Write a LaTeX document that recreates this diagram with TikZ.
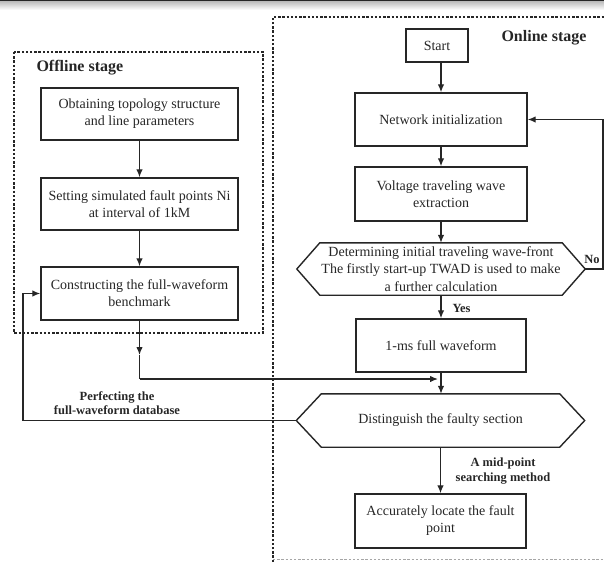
\documentclass[tikz,border=0pt]{standalone}
\usepackage{fontspec}
\setmainfont{Liberation Serif}
\usetikzlibrary{arrows.meta,calc}
\begin{document}
\begin{tikzpicture}[x=1pt,y=-1pt,
  box/.style={draw=black!85, line width=1.4pt, align=center, inner sep=0pt,
    font=\fontsize{14}{17}\selectfont, text=black!85},
  hexnode/.style={align=center, inner sep=0pt, minimum width=288pt, minimum height=52pt,
    font=\fontsize{14}{17.5}\selectfont, text=black!85},
  hexline/.style={draw=black!85, line width=1.4pt, line join=miter},
  arr/.style={draw=black!85, line width=1.3pt, -{Latex[length=8pt,width=6.5pt]}},
  conn/.style={draw=black!85, line width=1.3pt},
  lbl/.style={font=\bfseries\fontsize{12.5}{14.5}\selectfont, align=center, text=black!85},
  stagelbl/.style={font=\bfseries\fontsize{16}{19}\selectfont, text=black!85},
  dashbox/.style={draw=black!85, line width=1.5pt, dash pattern=on 2.4pt off 1.8pt}
]
\useasboundingbox (0,0) rectangle (604,562);
% screenshot top bar
\fill[black!85] (0,0) rectangle (604,1.8);
\shade[top color=black!25, bottom color=white] (0,1.8) rectangle (604,10);

% stage frames
\draw[dashbox] (14,52) rectangle (263,333);
\draw[dashbox] (273,562) -- (273,17) -- (610,17);
\draw[dashbox, draw=black!35, line width=1pt] (273,559) -- (610,559);

\node[stagelbl, anchor=west] (offl) at (33,68) {Offline stage};
\node[stagelbl, anchor=west] (onl) at (498,38) {Online stage};

% offline boxes
\node[box, minimum width=197pt, minimum height=52pt] (b1) at (139.5,114) {Obtaining topology structure\\and line parameters};
\node[box, minimum width=197pt, minimum height=52pt] (b2) at (139.5,204) {Setting simulated fault points Ni\\at interval of 1kM};
\node[box, minimum width=197pt, minimum height=53pt] (b3) at (139.5,293.5) {Constructing the full-waveform\\benchmark};

% online boxes
\node[box, minimum width=62pt, minimum height=33pt] (st) at (437,45.5) {Start};
\node[box, minimum width=172pt, minimum height=53pt] (ni) at (441,119.5) {Network initialization};
\node[box, minimum width=172pt, minimum height=54pt] (vt) at (441,194) {Voltage traveling wave\\extraction};
\node[hexnode] (h1) at (441,269) {Determining initial traveling wave-front\\The firstly start-up TWAD is used to make\\a further calculation};
\draw[hexline] (h1.west) -- ($(h1.north west)+(23,0)$) -- ($(h1.north east)+(-23,0)$) -- (h1.east)
  -- ($(h1.south east)+(-23,0)$) -- ($(h1.south west)+(23,0)$) -- cycle;
\node[box, minimum width=170pt, minimum height=53pt] (fw) at (441,345.5) {1-ms full waveform};
\node[hexnode, minimum height=53pt] (h2) at (440.5,420.5) {Distinguish the faulty section};
\draw[hexline] (h2.west) -- ($(h2.north west)+(25,0)$) -- ($(h2.north east)+(-25,0)$) -- (h2.east)
  -- ($(h2.south east)+(-25,0)$) -- ($(h2.south west)+(25,0)$) -- cycle;
\node[box, minimum width=171pt, minimum height=54pt] (fp) at (440.5,521) {Accurately locate the fault\\point};

% offline arrows
\draw[arr] (b1) -- (b2);
\draw[arr] (b2) -- (b3);

% online arrows
\draw[arr] (st.south -| ni.north) -- (ni.north);
\draw[arr] (ni) -- (vt);
\draw[arr] (vt.south) -- (h1.north -| vt.south);
\draw[arr] (h1.south) -- (fw.north);
\draw[arr] (fw.south) -- (h2.north -| fw.south);
\draw[arr] (h2.south) -- (fp.north);

% No loop
\coordinate (n1) at (603,269);
\coordinate (n2) at (603,119.5);
\draw[arr] (h1.east) -- (n1) -- (n2) -- (ni.east);
\node[lbl] (no) at (592,259) {No};
\node[lbl, anchor=west] (yes) at (449,308) {Yes};

% benchmark to distinguish
\coordinate (m1) at (139.5,355);
\coordinate (m2) at (139.5,379);
\coordinate (m3) at (438,379);
\draw[arr] (b3.south) -- (m1);
\draw[conn] (m1) -- (m2);
\draw[arr] (m2) -- (m3);

% feedback
\coordinate (f1) at (23,420.5);
\coordinate (f2) at (23,293.5);
\draw[arr] (h2.west) -- (f1) -- (f2) -- (b3.west);
\node[lbl] (perf) at (117,403) {Perfecting the\\full-waveform database};
\node[lbl] (mid) at (503,471) {A mid-point\\searching method};
\end{tikzpicture}
\end{document}
